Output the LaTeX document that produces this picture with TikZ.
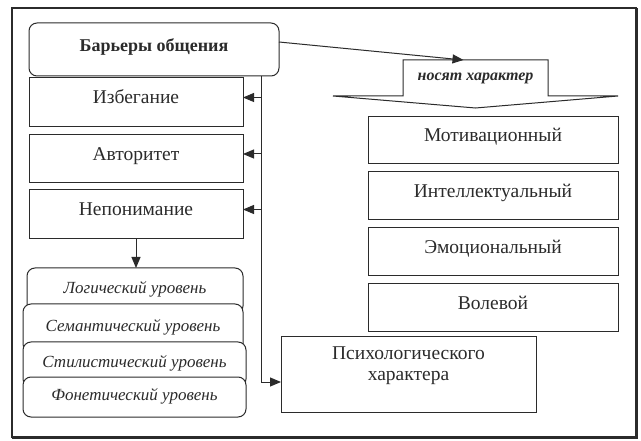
\documentclass[tikz,border=0pt]{standalone}
\usepackage{fontspec}
\setmainfont{Liberation Serif}
\usetikzlibrary{arrows.meta,calc}
\definecolor{ink}{HTML}{2B2B2B}
\begin{document}
\begin{tikzpicture}[x=1pt,y=-1pt,line width=1pt,draw=ink,text=ink,
  every node/.style={inner sep=0pt,outer sep=0pt},
  rbox/.style={draw=ink,rectangle,fill=white,font=\fontsize{19.5}{22}\selectfont,
    text height=13pt,text depth=10pt},
  lvl/.style={draw=ink,rounded corners=8pt,fill=white,
    font=\fontsize{17}{20}\selectfont\itshape,text height=12pt,text depth=6pt},
  arr/.style={-{Triangle[length=11pt,width=9pt]}}]
\useasboundingbox (0,0) rectangle (641,441);
% outer frame
\draw[line width=1.1pt] (12,8) rectangle (636,437);
\draw[line width=2.2pt] (12,437.5) -- (636.5,437.5) -- (636.5,8);
% main node
\node[rbox,rounded corners=8pt,minimum width=250pt,minimum height=53pt,
  font=\fontsize{18}{21}\selectfont\bfseries,text height=13pt,text depth=8pt] (bar) at (154,49.5) {Барьеры общения};
% left boxes
\node[rbox,minimum width=214pt,minimum height=49pt] (izb) at (136,102.5) {Избегание};
\node[rbox,minimum width=214pt,minimum height=48pt] (avt) at (136,159) {Авторитет};
\node[rbox,minimum width=214pt,minimum height=49pt] (nep) at (136,214.5) {Непонимание};
% levels
\node[lvl,minimum width=216pt,minimum height=46pt] (log) at (135,291) {Логический уровень};
\node[lvl,minimum width=220pt,minimum height=48pt] (sem) at (133,328) {Семантический уровень};
\node[lvl,minimum width=223pt,minimum height=45pt] (sti) at (134.5,364.5) {Стилистический уровень};
\node[lvl,minimum width=223pt,minimum height=40pt] (fon) at (134.5,397) {Фонетический уровень};
% right boxes
\node[rbox,minimum width=250pt,minimum height=47pt] (mot) at (493,140.5) {Мотивационный};
\node[rbox,minimum width=250pt,minimum height=48pt] (int) at (493,196) {Интеллектуальный};
\node[rbox,minimum width=250pt,minimum height=48pt] (emo) at (493,252) {Эмоциональный};
\node[rbox,minimum width=250pt,minimum height=48pt] (vol) at (493,308) {Волевой};
% psychological box
\node[draw=ink,rectangle,minimum width=255pt,minimum height=75pt] (psy) at (408.5,374.5) {};
\node[align=center,font=\fontsize{19.5}{21}\selectfont] (psyt) at (408.5,366) {Психологического\\характера};
% arrow shape
\node[minimum width=145pt,minimum height=36pt,font=\fontsize{16}{19}\selectfont\bfseries\itshape] (nos) at (475.5,78) {носят характер};
\coordinate (wl) at (333,96);
\coordinate (wr) at (618,96);
\coordinate (wp) at (475.5,108);
\draw[line join=miter] (nos.south west) -- (nos.north west) -- (nos.north east) -- (nos.south east)
  -- (wr) -- (wp) -- (wl) -- cycle;
% connectors
\coordinate (vt) at ([xshift=107pt]bar.south);
\coordinate (a1) at ([yshift=5pt]izb.east);
\coordinate (a2) at ([yshift=5pt]avt.east);
\coordinate (a3) at ([yshift=5pt]nep.east);
\coordinate (a4) at ([yshift=-7.5pt]psy.west);
\draw[arr] (vt) |- (a4);
\draw[arr] (vt |- a1) -- (a1);
\draw[arr] (vt |- a2) -- (a2);
\draw[arr] (vt |- a3) -- (a3);
\draw[arr] (nep.south) -- (nep.south |- log.north);
\draw[arr] ([yshift=7.5pt]bar.east) -- ([xshift=-12pt]nos.north);
\end{tikzpicture}
\end{document}
